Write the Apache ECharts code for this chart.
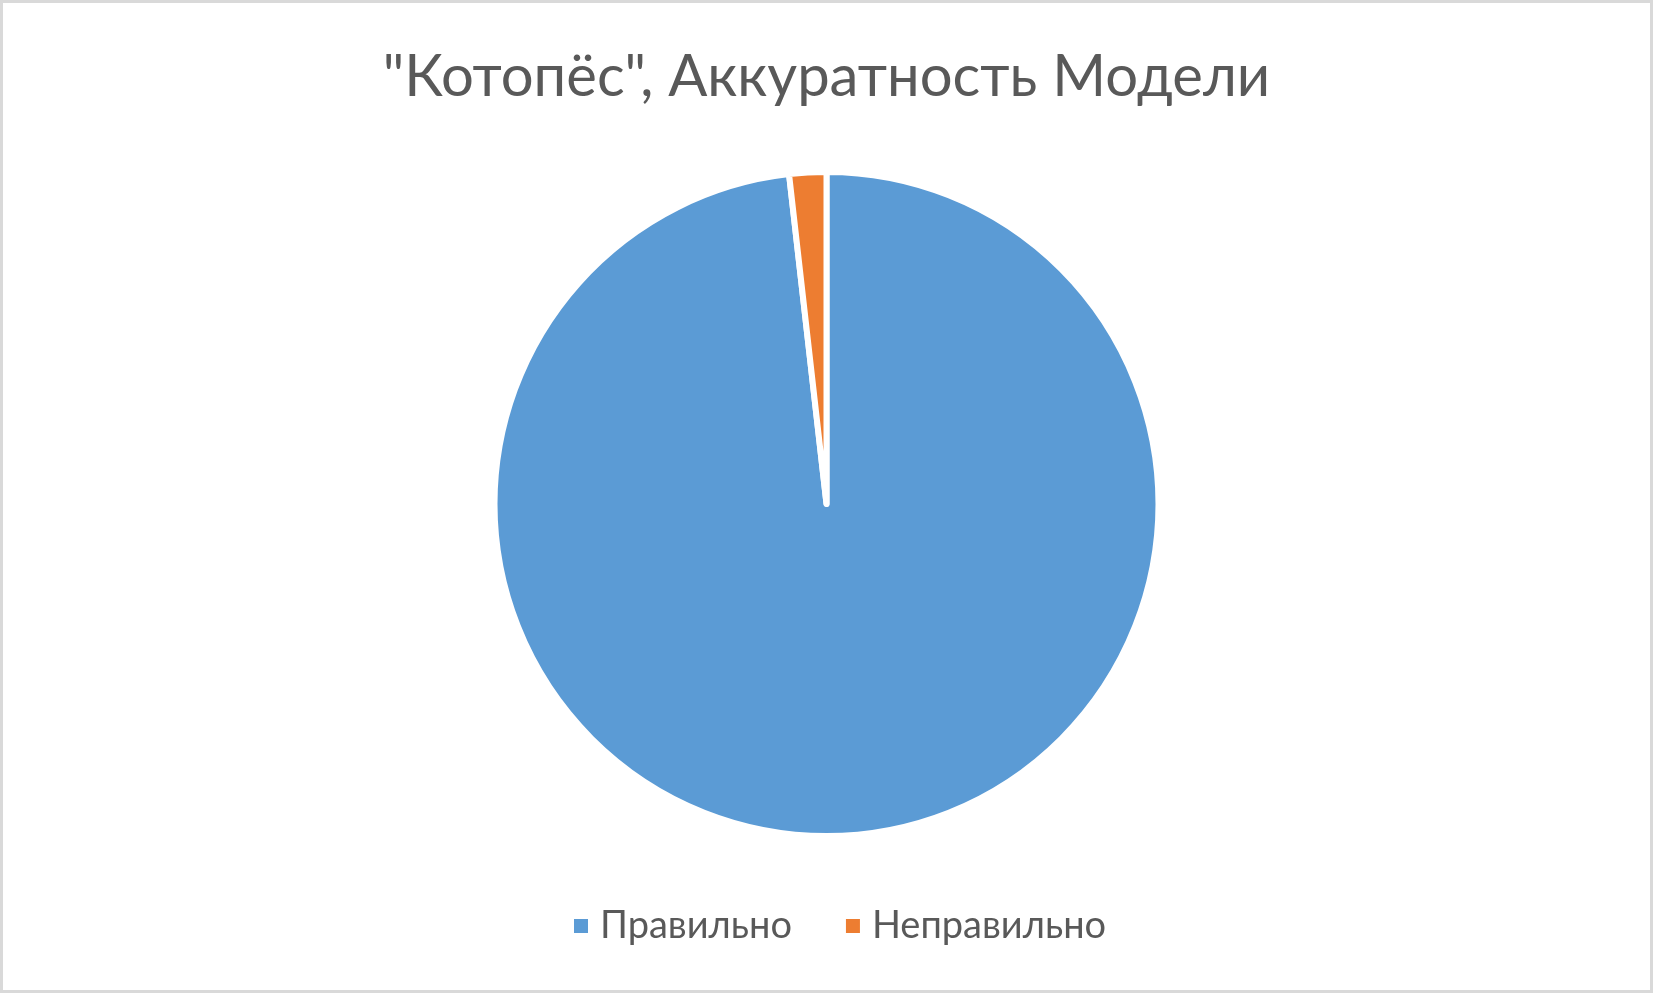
<!DOCTYPE html>
<html>
<head>
<meta charset="utf-8">
<script src="https://cdn.jsdelivr.net/npm/echarts@6/dist/echarts.min.js"></script>
<style>
  html, body { margin: 0; padding: 0; background: #fff; }
  #chart { position: absolute; left: 0; top: 0; width: 1653px; height: 993px; }
  #frame { position: absolute; left: 0; top: 0; width: 1653px; height: 993px;
           box-sizing: border-box; border: 3px solid #d9d9d9; pointer-events: none; }
</style>
</head>
<body>
<div id="chart"></div>
<div id="frame"></div>
<script>
var titleText = '"Котопёс", Аккуратность Модели';
var categories = ['Правильно', 'Неправильно'];
var values = [98.2, 1.8];
var colors = ['#5b9bd5', '#ed7d31'];

var pieData = categories.map(function (name, i) {
  return { name: name, value: values[i], itemStyle: { color: colors[i] } };
});

var chart = echarts.init(document.getElementById('chart'));
chart.setOption({
  backgroundColor: '#fff',
  animation: false,
  title: {
    text: titleText,
    left: 'center',
    top: 43,
    textStyle: {
      color: '#595959',
      fontFamily: 'Lato',
      fontWeight: 'normal',
      fontSize: 58
    }
  },
  legend: {
    data: categories,
    bottom: 43,
    left: 567,
    icon: 'rect',
    itemWidth: 16,
    itemHeight: 16,
    itemGap: 52,
    selectedMode: false,
    textStyle: {
      color: '#595959',
      fontFamily: 'Lato',
      fontSize: 38,
      padding: [0, 0, 0, 6]
    }
  },
  series: [{
    type: 'pie',
    center: [826.5, 504],
    radius: 332,
    startAngle: 90,
    clockwise: true,
    label: { show: false },
    labelLine: { show: false },
    emphasis: { disabled: true },
    itemStyle: { borderColor: '#fff', borderWidth: 6 },
    data: pieData
  }]
});
</script>
</body>
</html>
